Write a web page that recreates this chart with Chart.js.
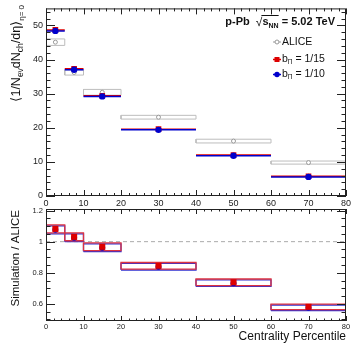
<!DOCTYPE html>
<html>
<head>
<meta charset="utf-8">
<script src="https://cdn.jsdelivr.net/npm/chart.js@4.4.0/dist/chart.umd.min.js"></script>
<style>
html, body { margin: 0; padding: 0; background: #fff; }
#wrap { position: relative; width: 355px; height: 345px; }
canvas { position: absolute; left: 0; top: 0; }
</style>
</head>
<body>
<div id="wrap">
  <canvas id="topc" width="355" height="345"></canvas>
  <canvas id="botc" width="355" height="345"></canvas>
</div>
<script>
// centrality bins (percent)
var binLo  = [0, 5, 10, 20, 40, 60];
var binHi  = [5, 10, 20, 40, 60, 80];
var binMid = [2.5, 7.5, 15, 30, 50, 70];

// <dNch/deta> : ALICE data and the two simulations
var alice    = [45.1, 36.2, 30.4, 23.1, 16.1, 9.8];
var aliceErr = [0.95, 0.75, 0.85, 0.55, 0.55, 0.45];
var sim15    = [48.7, 37.3, 29.4, 19.6, 12.0, 5.8];
var sim10    = [48.4, 37.0, 29.2, 19.4, 11.8, 5.6];

// simulation / ALICE
var ratio15  = [1.082, 1.031, 0.967, 0.845, 0.739, 0.581];
var ratio10  = [1.076, 1.025, 0.961, 0.839, 0.733, 0.575];
var ratioErr = [0.026, 0.025, 0.025, 0.021, 0.021, 0.018];

// tick labels
var xTicks    = [0, 10, 20, 30, 40, 50, 60, 70, 80];
var topYTicks = [0, 10, 20, 30, 40, 50];
var botYTicks = [0.6, 0.8, 1, 1.2];
var botYLabels = ['0.6', '0.8', '1', '1.2'];

var FONT = '"Liberation Sans", Arial, Helvetica, sans-serif';
var RED = '#dd0000', BLUE = '#0000cc';

function boxes(val, err) {
  var pts = [];
  for (var i = 0; i < val.length; i++) {
    var lo = val[i] - err[i], hi = val[i] + err[i];
    pts.push({x: binLo[i], y: lo}, {x: binHi[i], y: lo}, {x: binHi[i], y: hi},
             {x: binLo[i], y: hi}, {x: binLo[i], y: lo}, {x: binLo[i], y: null});
  }
  return pts;
}
function segs(val) {
  var pts = [];
  for (var i = 0; i < val.length; i++) {
    pts.push({x: binLo[i], y: val[i]}, {x: binHi[i], y: val[i]}, {x: binHi[i], y: null});
  }
  return pts;
}
function points(val) {
  return val.map(function(v, i) { return {x: binMid[i], y: v}; });
}

function fnt(p) { return (p.bold ? 'bold ' : '') + p.size + 'px ' + FONT; }
function richWidth(c, parts) {
  var w = 0;
  parts.forEach(function(p) { c.font = fnt(p); w += c.measureText(p.t).width; });
  return w;
}
function drawRich(c, parts, x, y) {
  parts.forEach(function(p) {
    c.font = fnt(p);
    c.fillText(p.t, x, y + (p.dy || 0));
    x += c.measureText(p.t).width;
  });
  return x;
}

// ROOT style frame with inward ticks
function makeFrame(cfg) {
  return {
    id: 'frame',
    afterDatasetsDraw: function(chart) {
      var a = chart.chartArea, c = chart.ctx;
      var xs = chart.scales.x, ys = chart.scales.y;
      c.save();
      c.strokeStyle = '#222';
      c.lineWidth = 1;
      c.strokeRect(a.left + 0.5, a.top + 0.5, a.right - a.left - 1, a.bottom - a.top - 1);
      c.beginPath();
      var n = Math.round((xs.max - xs.min) / cfg.xMinor);
      for (var i = 0; i <= n; i++) {
        var v = xs.min + i * cfg.xMinor;
        var r = v / cfg.xMajor;
        var len = Math.abs(r - Math.round(r)) < 1e-6 ? cfg.xLen[0] : cfg.xLen[1];
        var px = Math.round(xs.getPixelForValue(v)) + 0.5;
        c.moveTo(px, a.bottom); c.lineTo(px, a.bottom - len);
        c.moveTo(px, a.top); c.lineTo(px, a.top + len);
      }
      var start = Math.ceil(ys.min / cfg.yMinor - 1e-6);
      var stop = Math.floor(ys.max / cfg.yMinor + 1e-6);
      for (var k = start; k <= stop; k++) {
        var yv = k * cfg.yMinor;
        var ry = yv / cfg.yMajor;
        var ylen = Math.abs(ry - Math.round(ry)) < 1e-6 ? cfg.yLen[0] : cfg.yLen[1];
        var py = Math.round(ys.getPixelForValue(yv)) + 0.5;
        c.moveTo(a.left, py); c.lineTo(a.left + ylen, py);
        c.moveTo(a.right, py); c.lineTo(a.right - ylen, py);
      }
      c.stroke();
      c.restore();
    }
  };
}

var topText = {
  id: 'topText',
  afterDraw: function(chart) {
    var c = chart.ctx;
    c.save();
    c.fillStyle = '#111';
    c.textBaseline = 'alphabetic';
    // title
    var p1 = [{t: 'p-Pb  ', size: 11, bold: 1}];
    var sq = [{t: '\u221A', size: 12}];
    var p2 = [{t: 's', size: 11, bold: 1}, {t: 'NN', size: 7, bold: 1, dy: 2.5}];
    var p3 = [{t: ' = 5.02 TeV', size: 11, bold: 1}];
    var total = richWidth(c, p1) + richWidth(c, sq) + richWidth(c, p2) + richWidth(c, p3);
    var x = 335 - total, y = 25;
    x = drawRich(c, p1, x, y);
    x = drawRich(c, sq, x, y + 0.5);
    var ox = x;
    x = drawRich(c, p2, x, y);
    c.strokeStyle = '#111'; c.lineWidth = 1;
    c.beginPath(); c.moveTo(ox - 1, 15.5); c.lineTo(x, 15.5); c.stroke();
    drawRich(c, p3, x, y);

    // legend
    var rows = [
      {y: 42, label: [{t: 'ALICE', size: 10.5}], kind: 'alice'},
      {y: 59.5, label: [{t: 'b', size: 10.5}, {t: '\u03A0', size: 6.5, dy: 2.5}, {t: ' = 1/15', size: 10.5}], kind: 'red'},
      {y: 74.5, label: [{t: 'b', size: 10.5}, {t: '\u03A0', size: 6.5, dy: 2.5}, {t: ' = 1/10', size: 10.5}], kind: 'blue'}
    ];
    rows.forEach(function(r) {
      var col = r.kind === 'alice' ? '#999' : (r.kind === 'red' ? RED : BLUE);
      c.strokeStyle = col; c.lineWidth = r.kind === 'alice' ? 1 : 1.5;
      c.beginPath(); c.moveTo(273, r.y); c.lineTo(281, r.y); c.stroke();
      if (r.kind === 'alice') {
        c.fillStyle = '#fff'; c.beginPath(); c.arc(277, r.y, 2, 0, Math.PI * 2); c.fill(); c.stroke();
      } else if (r.kind === 'red') {
        c.fillStyle = RED; c.fillRect(274.5, r.y - 2.5, 5, 5);
      } else {
        c.fillStyle = BLUE; c.beginPath(); c.arc(277, r.y, 2.7, 0, Math.PI * 2); c.fill();
      }
      c.fillStyle = '#111';
      c.textBaseline = 'middle';
      drawRich(c, r.label, 282, r.y);
      c.textBaseline = 'alphabetic';
    });

    // y title (rotated)
    var yt = [{t: '\u27E81/N', size: 12.5}, {t: 'ev', size: 8.5, dy: 3}, {t: 'dN', size: 12.5},
              {t: 'ch', size: 8.5, dy: 3}, {t: '/d\u03B7\u27E9', size: 12.5}, {t: '\u03B7= 0', size: 8, dy: 4}];
    var w = richWidth(c, yt);
    c.translate(19.5, 5 + w);
    c.rotate(-Math.PI / 2);
    drawRich(c, yt, 0, 0);
    c.restore();
  }
};

var botText = {
  id: 'botText',
  afterDraw: function(chart) {
    var c = chart.ctx;
    c.save();
    c.fillStyle = '#111';
    c.font = '12px ' + FONT;
    c.textAlign = 'right';
    c.fillText('Centrality Percentile', 346, 340);
    c.font = '11.5px ' + FONT;
    c.translate(18.5, 210);
    c.rotate(-Math.PI / 2);
    c.fillText('Simulation / ALICE', 0, 0);
    c.restore();
  }
};

function axes(yMin, yMax, yTicks, yLabels, xFont, yFont, xPad, yPad) {
  return {
    x: {
      type: 'linear', min: 0, max: 80,
      grid: {display: false, drawTicks: false}, border: {display: false},
      ticks: {font: {family: FONT, size: xFont}, color: '#222', padding: xPad, maxRotation: 0,
              callback: function(v) { return String(v); }},
      afterBuildTicks: function(s) { s.ticks = xTicks.map(function(v) { return {value: v}; }); },
      afterFit: function(s) { s.height = 14; }
    },
    y: {
      type: 'linear', min: yMin, max: yMax,
      grid: {display: false, drawTicks: false}, border: {display: false},
      ticks: {font: {family: FONT, size: yFont}, color: '#222', padding: yPad,
              callback: function(v) {
                var i = yTicks.indexOf(v);
                return i >= 0 ? yLabels[i] : '';
              }},
      afterBuildTicks: function(s) { s.ticks = yTicks.map(function(v) { return {value: v}; }); },
      afterFit: function(s) { s.width = 46; }
    }
  };
}

var topChart = new Chart(document.getElementById('topc'), {
  type: 'line',
  data: {
    datasets: [
      {data: boxes(alice, aliceErr), borderColor: '#bdbdbd', borderWidth: 1, pointRadius: 0, fill: false, order: 6},
      {data: points(alice), showLine: false, pointStyle: 'circle', pointRadius: 2, borderWidth: 1,
       pointBorderColor: '#999', pointBackgroundColor: '#fff', order: 5},
      {data: segs(sim15), borderColor: RED, borderWidth: 1.5, pointRadius: 0, fill: false, order: 4},
      {data: segs(sim10), borderColor: BLUE, borderWidth: 1.5, pointRadius: 0, fill: false, order: 3},
      {data: points(sim15), showLine: false, pointStyle: 'rect', pointRadius: 4, pointBorderWidth: 0,
       pointBackgroundColor: RED, pointBorderColor: RED, order: 2},
      {data: points(sim10), showLine: false, pointStyle: 'circle', pointRadius: 3.2, pointBorderWidth: 0,
       pointBackgroundColor: BLUE, pointBorderColor: BLUE, order: 1}
    ]
  },
  options: {
    responsive: false, animation: false, devicePixelRatio: 1,
    layout: {padding: {top: 4, right: 9, bottom: 135, left: 0}},
    plugins: {legend: {display: false}, tooltip: {enabled: false}},
    scales: axes(0, 55, topYTicks, topYTicks.map(String), 9, 9, 2, 3)
  },
  plugins: [makeFrame({xMajor: 10, xMinor: 2, xLen: [6, 3], yMajor: 10, yMinor: 2, yLen: [9, 4.5]}), topText]
});

var botChart = new Chart(document.getElementById('botc'), {
  type: 'line',
  data: {
    datasets: [
      {data: [{x: 0, y: 1}, {x: 80, y: 1}], borderColor: '#aaa', borderWidth: 1, borderDash: [4, 3],
       pointRadius: 0, fill: false, order: 10},
      {data: boxes(ratio10, ratioErr), borderColor: '#3030d0', borderWidth: 1.3, pointRadius: 0, fill: false, order: 5},
      {data: boxes(ratio15, ratioErr), borderColor: '#dd3340', borderWidth: 1.3, pointRadius: 0, fill: false, order: 4},
      {data: points(ratio10), showLine: false, pointStyle: 'circle', pointRadius: 3, pointBorderWidth: 0,
       pointBackgroundColor: BLUE, order: 3},
      {data: points(ratio15), showLine: false, pointStyle: 'rect', pointRadius: 4.3, pointBorderWidth: 0,
       pointBackgroundColor: RED, order: 2}
    ]
  },
  options: {
    responsive: false, animation: false, devicePixelRatio: 1,
    layout: {padding: {top: 209, right: 9, bottom: 10, left: 0}},
    plugins: {legend: {display: false}, tooltip: {enabled: false}},
    scales: axes(0.49, 1.21, botYTicks, botYLabels, 7.5, 7.5, 1, 3)
  },
  plugins: [makeFrame({xMajor: 10, xMinor: 2, xLen: [5, 2.5], yMajor: 0.2, yMinor: 0.05, yLen: [9, 4.5]}), botText]
});
</script>
</body>
</html>
